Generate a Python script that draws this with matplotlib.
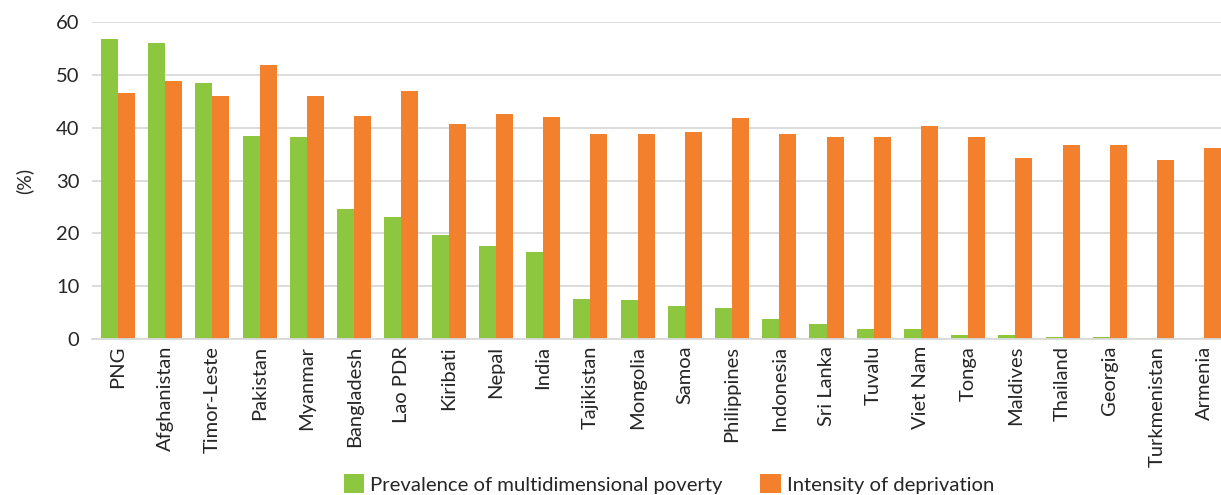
import matplotlib

matplotlib.use("Agg")
import matplotlib.pyplot as plt
import numpy as np

plt.rcParams["font.family"] = ["Lato", "DejaVu Sans"]

countries = ["PNG", "Afghanistan", "Timor-Leste", "Pakistan", "Myanmar",
             "Bangladesh", "Lao PDR", "Kiribati", "Nepal", "India",
             "Tajikistan", "Mongolia", "Samoa", "Philippines", "Indonesia",
             "Sri Lanka", "Tuvalu", "Viet Nam", "Tonga", "Maldives",
             "Thailand", "Georgia", "Turkmenistan", "Armenia"]
prevalence = [56.8, 56.0, 48.5, 38.4, 38.3, 24.6, 23.1, 19.7, 17.6, 16.5,
              7.6, 7.4, 6.3, 5.8, 3.8, 2.9, 1.9, 1.9, 0.8, 0.8,
              0.4, 0.4, 0.2, 0.0]
intensity = [46.6, 48.8, 46.0, 51.9, 46.0, 42.2, 47.0, 40.7, 42.6, 42.0,
             38.8, 38.8, 39.2, 41.9, 38.8, 38.3, 38.3, 40.3, 38.3, 34.3,
             36.7, 36.7, 33.9, 36.2]

GREEN = "#8dc63f"
ORANGE = "#f2802c"
TEXT = "#262626"

fig = plt.figure(figsize=(12.21, 4.95), dpi=100)
ax = fig.add_axes([92 / 1221, 156 / 495, 1136 / 1221, 317 / 495])

x = np.arange(len(countries))
w = 0.36
ax.bar(x - w / 2, prevalence, w, color=GREEN,
       label="Prevalence of multidimensional poverty", zorder=2)
ax.bar(x + w / 2, intensity, w, color=ORANGE,
       label="Intensity of deprivation", zorder=2)

ax.set_xlim(-0.55, len(countries) - 0.5)
ax.set_ylim(0, 60)
ax.set_yticks(range(0, 61, 10))
ax.set_xticks(x)
ax.set_xticklabels(countries, rotation=90, fontsize=14.5, color=TEXT)
ax.tick_params(axis="y", labelsize=14.5, colors=TEXT, length=0, pad=9)
ax.tick_params(axis="x", length=0, pad=5)
ax.grid(axis="y", color="#d9d9d9", lw=1.3, zorder=0)
ax.set_axisbelow(True)
for side in ["top", "right", "left"]:
    ax.spines[side].set_visible(False)
ax.spines["bottom"].set_color("#d9d9d9")
ax.spines["bottom"].set_linewidth(1.3)
ax.set_ylabel("(%)", fontsize=14, color=TEXT, labelpad=16)

fig.legend(loc="center", bbox_to_anchor=(669 / 1221, 1 - 484 / 495),
           ncol=2, frameon=False, fontsize=14.6, handlelength=1.0,
           handleheight=1.0, handletextpad=0.3, columnspacing=1.85,
           labelcolor=TEXT)

fig.savefig("out.png", dpi=100)
